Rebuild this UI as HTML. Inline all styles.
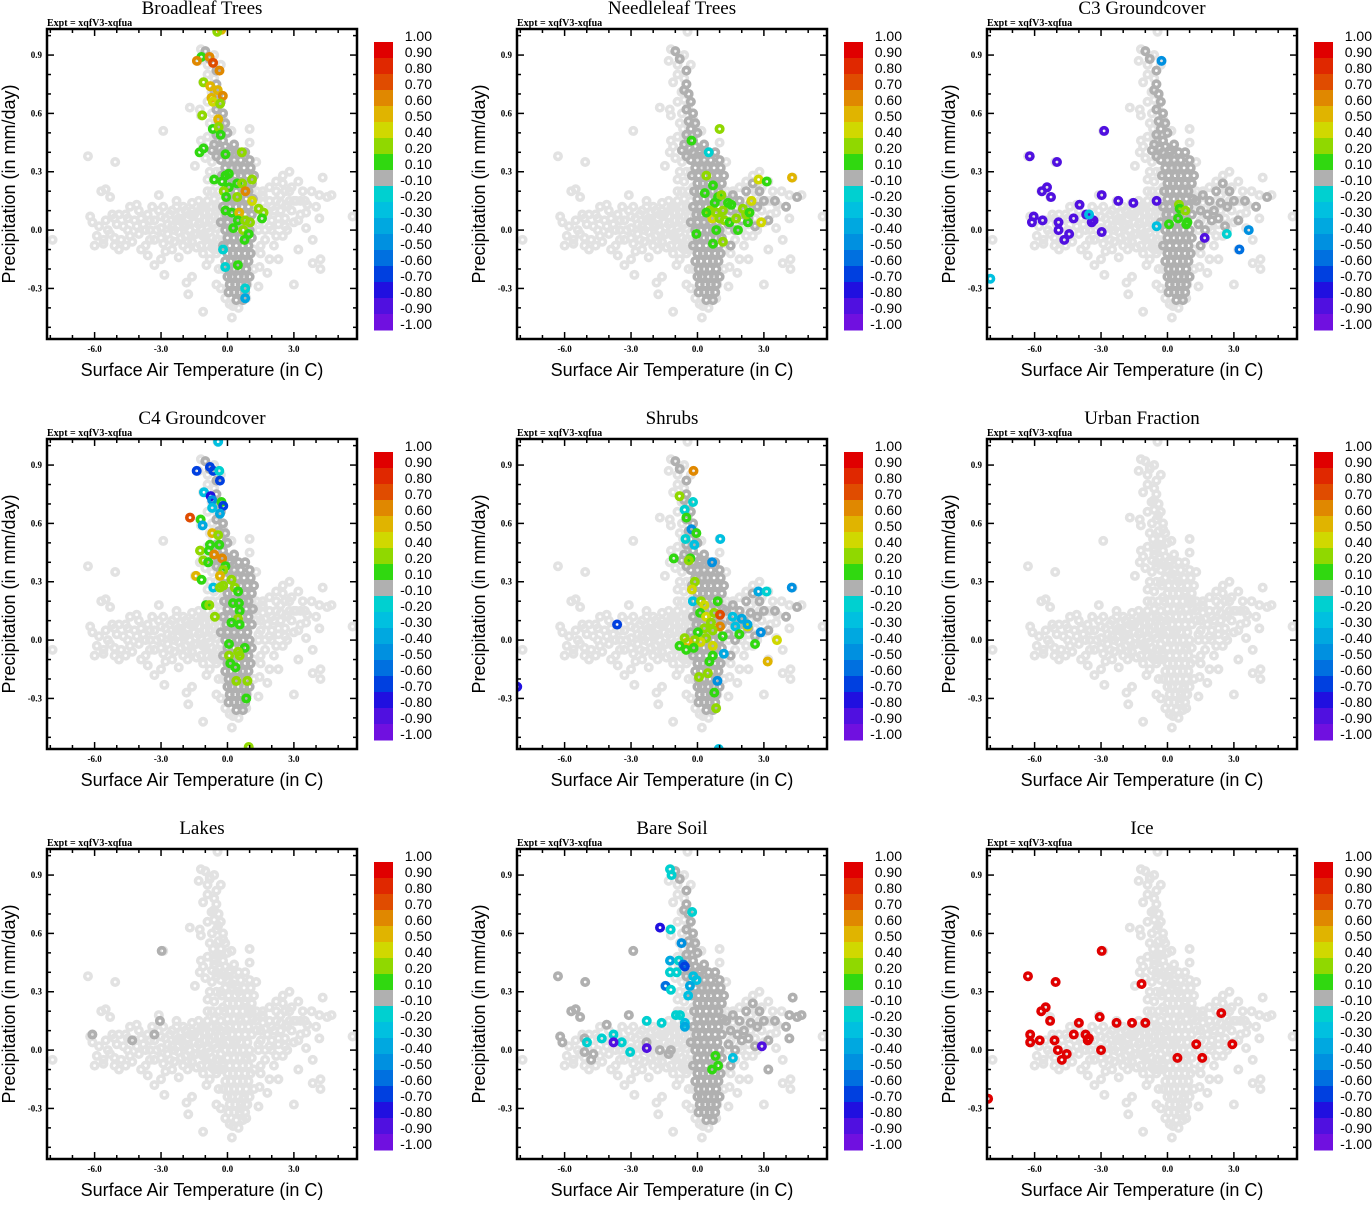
<!DOCTYPE html>
<html><head><meta charset="utf-8"><style>
html,body{margin:0;padding:0;background:#fff;}
svg text{font-family:"Liberation Sans",sans-serif;}
.serif{font-family:"Liberation Serif",serif !important;}
</style></head><body>
<svg id="fig" xmlns="http://www.w3.org/2000/svg" width="1372" height="1200" viewBox="0 0 1372 1200"></svg>
<script>
// ---- data ----
const panelTitles = ["Broadleaf Trees","Needleleaf Trees","C3 Groundcover","C4 Groundcover","Shrubs","Urban Fraction","Lakes","Bare Soil","Ice"];
const xTicks = [-6.0,-3.0,0.0,3.0];
const yTicks = [0.9,0.6,0.3,0.0,-0.3];
const cbBounds = [1.0,0.9,0.8,0.7,0.6,0.5,0.4,0.2,0.1,-0.1,-0.2,-0.3,-0.4,-0.5,-0.6,-0.7,-0.8,-0.9,-1.0];
const cbColors = ["#e00000","#e02800","#e04c00","#e08800","#e0b400","#d0d800","#90d800","#30d810","#b0b0b0","#00d0d0","#00c0e0","#00a8e0","#0090e0","#0070e0","#0040e0","#2010e0","#5010e0","#7010e0"];

const lightCloud = [-5.8,0.02,-5.5,0.05,-5.3,-0.02,-5.0,0.03,-4.8,-0.05,-4.6,0.08,-4.5,0.0,-4.3,-0.06,-4.2,0.05,-4.0,0.10,-4.0,-0.02,-3.8,0.03,-3.7,-0.08,-3.6,0.08,-3.5,0.0,-3.3,0.05,-3.3,-0.05,-3.1,0.1,-3.0,0.01,-2.9,-0.07,-2.8,0.06,-2.7,-0.02,-2.6,0.08,-2.5,0.02,-2.4,-0.06,-2.3,0.05,-2.2,-0.01,-2.1,0.09,-2.0,-0.08,-2.0,0.03,-1.9,-0.03,-1.8,0.06,-1.7,0.0,-1.6,-0.06,-1.6,0.1,-1.5,0.04,-1.4,-0.02,-1.3,0.07,-1.2,-0.08,-1.2,0.01,-1.1,0.12,-1.0,-0.04,-1.0,0.05,-0.9,0.15,-0.8,-0.01,-0.8,0.09,-0.7,-0.09,-0.6,0.03,-0.5,0.12,-0.5,-0.05,-0.4,0.07,-0.3,-0.02,-5.6,-0.05,-5.2,0.08,-4.9,-0.1,-4.4,0.12,-3.9,-0.1,-3.4,0.12,-2.8,-0.11,-2.3,0.12,-1.8,-0.1,-1.3,0.15,-6.2,0.07,-6.1,0.04,-5.1,0.06,-6,-0.08,-5.6,-0.07,-5.1,-0.08,-4.1,0.13,-2.3,0.15,-1.6,0.14,-3.1,0.18,
-6.3,0.38,-5.07,0.35,-5.7,0.2,-5.5,0.21,-5.3,0.17,-2.9,0.51,-3.6,-0.13,-3.3,-0.18,-3,-0.15,-2.85,-0.23,-2.2,-0.14,-1.85,-0.27,-1.6,-0.24,-1.77,-0.33,-1.1,-0.42,-0.8,-0.15,-0.95,-0.18,
4.7,0.18,4.3,0.27,4.15,0.18,3.55,0.09,3.55,0.01,3.85,-0.05,4.15,0.06,4.2,-0.15,4.2,-0.2,3.85,-0.17,3,-0.28,3.2,-0.1,2.65,0.13,1.45,-0.19,1.8,-0.22,1.4,-0.29,0.85,-0.35,0.25,-0.39,5.65,0.07,1.5,0.05,1.8,0.08,2.0,0.12,2.2,0.15,2.4,0.18,2.6,0.2,2.9,0.22,3.2,0.25,3.4,0.2,2.0,0.0,2.3,0.03,2.6,0.06,2.9,0.1,3.1,0.15,1.7,-0.05,2.1,-0.08,2.5,-0.03,1.3,0.1,1.6,0.14,-7.9,-0.05,
-0.45,1.02,-1.2,0.93,-1.3,0.87,-0.8,0.89,-1.1,0.76,-0.72,0.71,-1.7,0.63,-1.25,0.62,-1.2,0.59,-1.2,0.46,-1.25,0.4,-1.47,0.33,-1.1,0.43,-0.65,0.52,-0.35,0.49,-0.42,0.64,-0.2,0.57,0.18,0.51,1,0.52,-0.9,0.8,-0.6,0.78,-0.7,0.6,-0.5,0.4,-0.8,0.3,-0.6,0.25,-0.4,0.2,-0.5,0.1,-0.3,0.3,-0.9,0.2,-0.2,-0.1,-0.4,-0.2,-0.3,-0.3,0.2,-0.45,0.6,-0.3,
-0.1,0.38,0.2,0.34,0.5,0.3,0.8,0.25,1.1,0.2,0.0,0.1,0.4,0.05,0.8,-0.05,0.3,-0.2,0.7,-0.25,0.2,0.0,0.6,0.15];
const lightFill = [-5.4,0.0,-5.1,-0.04,-4.7,0.02,-4.5,0.06,-4.4,-0.03,-4.1,0.02,-3.9,0.06,-3.7,0.0,-3.5,-0.05,-3.5,0.05,-3.2,0.0,-3.0,0.07,-3.0,-0.04,-2.7,0.03,-2.6,-0.05,-2.5,0.1,-2.4,0.0,-2.2,0.06,-2.1,-0.04,-2.0,0.12,-1.9,0.02,-1.8,-0.06,-1.7,0.08,-1.5,-0.02,-1.5,0.08,-1.4,-0.09,-1.3,0.03,-1.2,0.11,-1.1,-0.03,-1.0,0.09,-0.9,0.01,-0.8,0.05,-0.7,0.12,-0.7,-0.04,-0.6,0.07,-0.6,-0.1,-0.5,0.01,-0.4,-0.1,-0.3,0.1,-0.2,0.03,-4.9,0.08,-4.6,-0.08,-5.9,-0.03,-2.9,0.12,-2.5,-0.1,-1.9,0.1,-1.1,-0.12,-0.9,-0.08,
-0.6,0.9,-0.9,0.85,-0.3,0.85,-0.6,0.67,-0.9,0.66,-0.8,0.55,-0.9,0.48,-0.6,0.46,-0.7,0.35,-1.0,0.37,-0.5,0.3,-0.9,0.26,-0.7,0.2,-0.3,0.15,-0.6,0.16,-0.2,0.22,-0.4,-0.05,-0.5,-0.12,-0.2,-0.2,-0.5,-0.28,-0.1,-0.35,0.1,-0.38,0.5,-0.4,0.9,-0.28,1.2,-0.1,1.3,0.2,1.0,0.45,1.3,0.35,1.4,0.0,1.2,-0.2,
1.6,0.2,1.9,0.22,2.2,0.25,2.5,0.28,2.8,0.3,1.9,0.02,2.2,-0.03,2.7,0.0,3.0,0.04,3.3,0.08,3.6,0.13,3.8,0.2,1.7,0.11,2.4,0.1,2.8,0.15,3.3,0.15,1.5,-0.12,1.9,-0.15,2.3,-0.15];

const darkCore = [-0.2,0.40,0.1,0.40,0.5,0.40,0.8,0.40,-0.3,0.36,0.0,0.36,0.3,0.36,0.6,0.36,1.0,0.36,-0.1,0.32,0.2,0.32,0.45,0.32,0.75,0.32,1.05,0.32,-0.25,0.28,0.05,0.28,0.35,0.28,0.6,0.28,0.9,0.28,1.2,0.28,0.0,0.24,0.25,0.24,0.5,0.24,0.8,0.24,1.1,0.24,-0.15,0.20,0.1,0.20,0.4,0.20,0.7,0.20,0.95,0.20,0.0,0.16,0.3,0.16,0.55,0.16,0.85,0.16,1.15,0.16,-0.2,0.12,0.1,0.12,0.4,0.12,0.65,0.12,0.95,0.12,-0.05,0.08,0.2,0.08,0.5,0.08,0.8,0.08,1.1,0.08,-0.3,0.04,0.0,0.04,0.3,0.04,0.6,0.04,0.9,0.04,-0.1,0.0,0.15,0.0,0.45,0.0,0.7,0.0,1.0,0.0,0.0,-0.04,0.3,-0.04,0.55,-0.04,0.85,-0.04,1.1,-0.04,-0.2,-0.08,0.1,-0.08,0.4,-0.08,0.7,-0.08,0.95,-0.08,0.0,-0.12,0.25,-0.12,0.5,-0.12,0.8,-0.12,1.05,-0.12,-0.1,-0.16,0.15,-0.16,0.45,-0.16,0.7,-0.16,0.95,-0.16,0.05,-0.20,0.3,-0.20,0.55,-0.20,0.85,-0.20,0.0,-0.24,0.2,-0.24,0.5,-0.24,0.75,-0.24,1.0,-0.24,0.1,-0.28,0.35,-0.28,0.6,-0.28,0.85,-0.28,0.05,-0.32,0.3,-0.32,0.55,-0.32,0.8,-0.32,0.4,-0.36,0.7,-0.36];
const darkTop = [-1.0,0.92,-0.8,0.88,-0.5,0.82,-0.5,0.75,-0.4,0.7,-0.6,0.72,-0.3,0.66,-0.5,0.62,-0.2,0.6,-0.4,0.56,-0.1,0.55,-0.3,0.52,0.0,0.5,-0.5,0.49,-0.2,0.46,-0.6,0.44,-0.35,0.42,-0.1,0.43,0.1,0.41,0.3,0.44,-0.5,0.38,-0.7,0.41];
const darkWing = [1.3,0.15,1.5,0.1,1.6,0.18,1.8,0.08,1.9,0.15,2.1,0.1,2.2,0.2,2.4,0.14,2.5,0.24,2.7,0.12,2.8,0.2,3.0,0.15,1.4,0.03,1.7,0.0,2.0,0.05,2.3,0.06,2.6,0.02,1.5,-0.08,3.5,0.15,4.0,0.12,4.5,0.17,3.2,0.05];
const darkLeft = [-6.3,0.38,-5.07,0.35,-5.7,0.2,-5.5,0.21,-5.3,0.17,-2.9,0.51,-3.1,0.18,-4.1,0.13,-6.2,0.07,-6.1,0.04,-5.1,0.06,-5.1,-0.01,-4.7,-0.02,-4.8,-0.05,-2.3,0.04,-1.7,0.0,-1.3,-0.02,-1.2,0.0,4.3,0.27,4.7,0.18,4.15,0.18,4.15,0.06,3.2,-0.1];
const darkLakes = [-2.97,0.51,-6.1,0.08,-4.3,0.05,-3.3,0.08,-3.05,0.15];

// colored points per panel: x, y, correlation
const corrBroadleaf = [-0.28,1.03,0.5,-0.46,1.02,0.3,-1.18,0.89,0.1,-1.38,0.87,0.6,-0.81,0.89,0.6,-0.65,0.86,0.7,-0.36,0.82,0.6,-1.08,0.76,0.2,-0.78,0.74,0.5,-0.44,0.72,0.5,-0.21,0.69,0.6,-0.72,0.68,0.5,-0.66,0.66,0.4,-0.33,0.65,0.2,-1.14,0.59,0.2,-0.42,0.57,0.5,-0.66,0.52,0.1,-0.4,0.53,0.2,-0.31,0.49,0.1,-1.26,0.40,0.1,-1.08,0.42,0.1,-0.09,0.39,0.1,0.65,0.40,0.2,-0.6,0.26,0.1,-0.24,0.25,0.1,-0.09,0.28,0.1,0.06,0.29,0.1,0.06,0.22,0.1,-0.17,0.2,0.3,0.44,0.24,0.1,0.66,0.24,0.3,1.11,0.26,0.2,0.81,0.2,0.6,-0.06,0.17,0.1,0.44,0.17,0.2,1.11,0.15,0.4,1.41,0.11,0.2,1.63,0.09,0.2,1.56,0.06,0.1,-0.09,0.1,0.1,0.2,0.09,0.1,0.53,0.09,0.5,0.47,0.05,0.1,0.8,0.05,0.2,1.02,0.04,0.3,0.26,0.01,0.1,0.71,0.0,0.2,0.96,-0.02,0.1,0.77,-0.05,0.1,0.47,-0.18,0.1,-0.2,-0.1,-0.2,0.8,-0.3,-0.2,0.8,-0.35,-0.4,-0.1,-0.19,-0.2];
const corrNeedleleaf = [1.0,0.52,0.3,-0.27,0.46,0.1,0.51,0.4,-0.2,0.4,0.28,0.2,0.7,0.23,0.1,0.33,0.19,0.1,0.93,0.17,0.1,1.08,0.18,0.2,2.76,0.26,0.4,3.13,0.25,0.1,4.27,0.27,0.5,2.44,0.15,0.4,2.88,0.04,0.4,0.67,0.06,0.4,0.78,0.14,0.1,0.55,0.1,0.2,0.4,0.09,0.1,0.85,0.09,0.2,1.15,0.1,0.2,1.38,0.14,0.1,1.53,0.13,0.1,1.0,0.06,0.2,1.23,0.05,0.2,1.45,0.04,0.1,1.75,0.06,0.2,0.85,0.0,0.1,0.7,-0.07,0.1,1.15,-0.06,0.2,1.83,0.0,0.1,2.28,0.04,0.1,2.05,0.11,0.2,2.2,0.08,0.2,2.35,0.09,0.1,-0.05,-0.02,0.1];
const corrC3 = [-6.22,0.38,-0.9,-4.99,0.35,-0.9,-2.86,0.51,-0.9,-5.67,0.2,-0.9,-5.44,0.22,-0.9,-5.26,0.17,-0.9,-6.04,0.07,-0.9,-6.12,0.04,-0.9,-5.64,0.05,-0.9,-4.92,0.04,-0.9,-4.92,0.0,-0.9,-4.66,-0.05,-0.9,-4.44,-0.02,-0.9,-4.24,0.06,-0.9,-3.97,0.13,-0.9,-3.67,0.08,-0.9,-3.42,0.04,-0.9,-3.34,0.05,-0.9,-2.97,-0.01,-0.9,-2.97,0.18,-0.9,-2.22,0.15,-0.9,-1.54,0.14,-0.9,-0.49,0.15,-0.9,-3.54,0.08,-0.3,-0.49,0.02,-0.3,-8.0,-0.25,-0.3,2.68,-0.02,-0.2,3.67,0.0,-0.5,3.25,-0.1,-0.6,-0.27,0.87,-0.5,1.68,-0.04,-0.9,0.52,0.13,0.3,0.55,0.11,0.1,0.81,0.1,0.2,0.48,0.06,0.1,0.9,0.04,0.1,0.07,0.03,0.1,0.85,0.03,0.1];
const corrC4 = [-0.42,1.02,-0.3,-1.39,0.87,-0.7,-0.79,0.89,-0.7,-0.64,0.87,-0.7,-0.37,0.87,-0.2,-0.34,0.82,-0.7,-1.06,0.76,-0.3,-0.76,0.74,-0.8,-0.69,0.72,-0.5,-0.27,0.71,0.1,-0.19,0.69,-0.7,-0.69,0.68,-0.3,-0.34,0.65,-0.4,-1.69,0.63,0.7,-1.21,0.62,0.1,-1.12,0.59,-0.4,-0.69,0.55,0.5,-0.42,0.54,0.3,-0.79,0.49,0.1,-0.37,0.49,0.1,-1.24,0.46,0.2,-0.84,0.46,0.1,-0.6,0.44,0.6,-0.24,0.42,0.6,-1.09,0.41,0.3,-0.87,0.4,0.1,-0.09,0.38,0.1,-0.19,0.36,0.2,-1.42,0.33,0.5,-1.17,0.31,0.1,-0.34,0.33,0.5,0.18,0.31,0.3,-0.64,0.27,-0.3,-0.34,0.27,0.2,-0.19,0.28,0.3,0.33,0.27,0.3,0.48,0.25,0.1,-0.97,0.18,0.1,-0.82,0.18,0.3,0.25,0.19,0.1,0.52,0.19,0.1,0.55,0.15,0.1,-0.57,0.12,0.3,0.48,0.11,0.3,0.18,0.09,0.1,0.55,0.08,0.1,0.07,-0.02,0.1,0.78,-0.04,0.1,0.07,-0.08,0.2,0.48,-0.06,0.3,0.55,-0.08,0.2,0.13,-0.12,0.1,0.36,-0.14,0.1,0.4,-0.21,0.2,0.9,-0.21,0.2,0.85,-0.3,0.1,0.96,-0.55,0.3];
const corrShrubs = [-0.18,0.87,0.6,-0.81,0.74,0.3,-0.2,0.71,-0.2,-0.58,0.67,-0.2,-0.5,0.63,0.1,-0.27,0.57,-0.5,-0.05,0.55,0.1,-0.54,0.52,-0.2,-0.14,0.49,-0.3,1.03,0.52,-0.3,-1.07,0.42,0.1,-0.32,0.42,0.1,-0.39,0.41,0.2,0.66,0.40,-0.5,-0.12,0.30,0.3,-0.25,0.26,0.4,-0.21,0.2,-0.3,0.16,0.2,0.3,0.31,0.18,0.4,0.12,0.14,0.1,0.39,0.12,0.4,0.61,0.09,0.2,0.76,0.14,0.3,0.91,0.2,0.1,1.02,0.13,0.7,1.02,0.07,0.6,1.14,0.02,0.1,0.69,0.05,0.3,0.31,0.06,0.2,0.02,0.04,0.1,0.39,0.01,0.3,0.14,-0.01,0.4,-0.13,0.0,0.2,-0.44,-0.01,0.5,-0.58,0.01,0.2,-0.81,-0.03,0.1,-0.51,-0.05,0.1,-0.17,-0.04,0.1,0.69,-0.03,0.4,0.69,-0.08,0.1,0.54,-0.11,0.1,0.47,-0.17,0.2,0.07,-0.19,0.2,0.76,-0.27,0.1,0.84,-0.35,0.3,0.96,-0.56,-0.3,-8.14,-0.24,-0.8,-3.63,0.08,-0.7,1.71,0.07,-0.3,1.89,0.03,0.1,2.26,0.07,0.4,2.6,-0.02,0.1,2.86,0.04,-0.5,2.75,0.25,-0.4,3.12,0.25,-0.2,4.26,0.27,-0.5,3.59,0.0,0.4,3.17,-0.11,0.5,2.0,0.11,-0.4,1.59,0.12,-0.3,2.26,0.08,-0.4,1.19,-0.07,-0.4,0.9,-0.21,-0.5];
const corrUrban = [];
const corrLakes = [];
const corrBareSoil = [-1.24,0.93,-0.2,-1.17,0.9,-0.2,-0.24,0.71,-0.2,-1.21,0.62,-0.2,-0.72,0.55,-0.5,-1.24,0.46,-0.4,-0.84,0.46,-0.2,-0.64,0.44,-0.6,-0.57,0.43,-0.7,-1.24,0.4,-0.2,-0.94,0.4,-0.2,-0.19,0.38,-0.3,-0.04,0.36,-0.3,-1.44,0.33,-0.6,-1.2,0.31,-0.2,-0.34,0.33,-0.4,-0.42,0.28,-0.3,-0.97,0.18,-0.2,-0.79,0.18,-0.2,-0.57,0.14,-0.3,-0.57,0.12,-0.4,-2.29,0.15,-0.2,-1.62,0.14,-0.2,-4.99,0.04,-0.2,-4.32,0.06,-0.2,-3.79,0.08,-0.2,-3.42,0.04,-0.2,-3.04,-0.01,-0.2,-1.69,0.63,-0.8,-3.79,0.04,-0.9,-2.29,0.01,-0.9,2.91,0.02,-0.9,1.6,-0.04,-0.3,0.81,-0.03,0.1,0.93,-0.08,0.1,0.66,-0.1,0.1];
const corrIce = [-6.3,0.38,1.0,-5.05,0.35,1.0,-2.97,0.51,1.0,-5.5,0.22,1.0,-5.7,0.2,1.0,-5.3,0.15,1.0,-6.2,0.08,1.0,-6.2,0.04,1.0,-5.77,0.05,1.0,-5.1,0.05,1.0,-4.95,0.0,1.0,-4.77,-0.05,1.0,-4.55,-0.02,1.0,-4.23,0.08,1.0,-4.0,0.14,1.0,-3.7,0.08,1.0,-3.6,0.05,1.0,-3.55,0.06,1.0,-3.06,0.17,1.0,-3.0,0.0,1.0,-2.3,0.14,1.0,-1.6,0.14,1.0,-1.17,0.34,1.0,-1.0,0.14,1.0,0.45,-0.04,1.0,1.3,0.03,1.0,1.57,-0.04,1.0,2.43,0.19,1.0,2.93,0.03,1.0,-8.1,-0.25,1.0];

const panelCorr = [corrBroadleaf,corrNeedleleaf,corrC3,corrC4,corrShrubs,corrUrban,corrLakes,corrBareSoil,corrIce];
const panelDark = [[darkCore,darkTop],[darkCore,darkTop,darkWing],[darkCore,darkTop,darkWing],[darkCore,darkTop],[darkCore,darkTop,darkWing],[],[darkLakes],[darkCore,darkTop,darkWing,darkLeft],[]];
const allCloud = [lightCloud,lightFill,darkCore,darkTop,darkWing];

// ---- drawing ----
const NS = "http://www.w3.org/2000/svg";
const svg = document.getElementById('fig');
function mk(tag, attrs, parent){ const e=document.createElementNS(NS,tag); for(const k in attrs) e.setAttribute(k,attrs[k]); (parent||svg).appendChild(e); return e; }
const X0=-8.15, X1=5.85, Y0=-0.56, Y1=1.034;
const PW=310, PH=310;
const PR=3.2, PSW=3.6;
function colorFor(r){
  if(r>-0.1&&r<0.1) return cbColors[8];
  for(let i=0;i<cbColors.length;i++){ if(r<=cbBounds[i] && r>=cbBounds[i+1]) return cbColors[i]; }
  return r>0?cbColors[0]:cbColors[17];
}
function fmt(v){ return v.toFixed(2); }

panelTitles.forEach((title, p)=>{
  const ox = (p%3)*470, oy = Math.floor(p/3)*410;
  const L=47+ox, T=29+oy;
  const sx = v => L + (v-X0)/(X1-X0)*PW;
  const sy = v => T + (Y1-v)/(Y1-Y0)*PH;
  const g = mk('g',{});
  
  

  const tt = mk('text',{x:L+155,y:oy+14,'text-anchor':'middle','font-size':'19',class:'serif'},g);
  tt.textContent=title;
  
  
  const ex = mk('text',{x:L,y:T-3,'font-size':'10','font-weight':'bold',class:'serif'},g);
  ex.textContent='Expt = xqfV3-xqfua';
  
  

  const clip = mk('clipPath',{id:'c'+p},g);
  mk('rect',{x:L,y:T,width:PW,height:PH},clip);
  const pts = mk('g',{'clip-path':'url(#c'+p+')',fill:'none','stroke-width':PSW},g);
  
  
  allCloud.forEach(arr=>{
    for(let i=0;i<arr.length;i+=2){
      const c=mk('circle',{cx:sx(arr[i]),cy:sy(arr[i+1]),r:PR,stroke:'#e2e2e2'},pts);
      
      
    }
  });
  panelDark[p].forEach(arr=>{
    for(let i=0;i<arr.length;i+=2){
      const c=mk('circle',{cx:sx(arr[i]),cy:sy(arr[i+1]),r:PR,stroke:'#b0b0b0'},pts);
      
      
    }
  });
  const cr = panelCorr[p];
  for(let i=0;i<cr.length;i+=3){
    const c=mk('circle',{cx:sx(cr[i]),cy:sy(cr[i+1]),r:PR,stroke:colorFor(cr[i+2])},pts);
    
    
  }

  // ticks
  const tk = mk('g',{stroke:'#000','stroke-width':'1.5'},g);
  
  
  for(let v=-8; v<=5; v++){
    const x=sx(v), len = (v%3===0)?7:4;
    mk('line',{x1:x,y1:T+PH,x2:x,y2:T+PH-len},tk);
    mk('line',{x1:x,y1:T,x2:x,y2:T+len},tk);
  }
  for(let k=-5; k<=10; k++){
    const v=k/10, y=sy(v), len=(k%3===0)?7:4;
    mk('line',{x1:L,y1:y,x2:L+len,y2:y},tk);
    mk('line',{x1:L+PW,y1:y,x2:L+PW-len,y2:y},tk);
  }
  xTicks.forEach(v=>{
    const t=mk('text',{x:sx(v),y:T+PH+13,'text-anchor':'middle','font-size':'9','font-weight':'bold',class:'serif'},g);
    t.textContent=v.toFixed(1);
    
    
  });
  yTicks.forEach(v=>{
    const t=mk('text',{x:L-5,y:sy(v)+3,'text-anchor':'end','font-size':'9','font-weight':'bold',class:'serif'},g);
    t.textContent=v.toFixed(1);
    
    
  });
  const fr=mk('rect',{x:L,y:T,width:PW,height:PH,fill:'none',stroke:'#000','stroke-width':'2.5'},g);
  
  

  const xl=mk('text',{x:L+155,y:T+PH+37,'text-anchor':'middle','font-size':'18'},g);
  xl.textContent='Surface Air Temperature (in C)';
  
  
  const yl=mk('text',{x:0,y:0,'text-anchor':'middle','font-size':'18',transform:'translate('+(ox+15)+','+(T+155)+') rotate(-90)'},g);
  yl.textContent='Precipitation (in mm/day)';
  
  

  // colorbar
  const cb = mk('g',{},g);
  
  
  const cbx=374+ox, cby=42+oy, seg=16;
  cbColors.forEach((c,i)=>{
    const r=mk('rect',{x:cbx,y:cby+i*seg,width:19,height:seg+0.5,fill:c},cb);
    
    
  });
  cbBounds.forEach((b,i)=>{
    const t=mk('text',{x:432+ox,y:cby+i*seg-1,'text-anchor':'end','font-size':'14'},cb);
    t.textContent=fmt(b);
    
    
  });
});
</script>
</body></html>
